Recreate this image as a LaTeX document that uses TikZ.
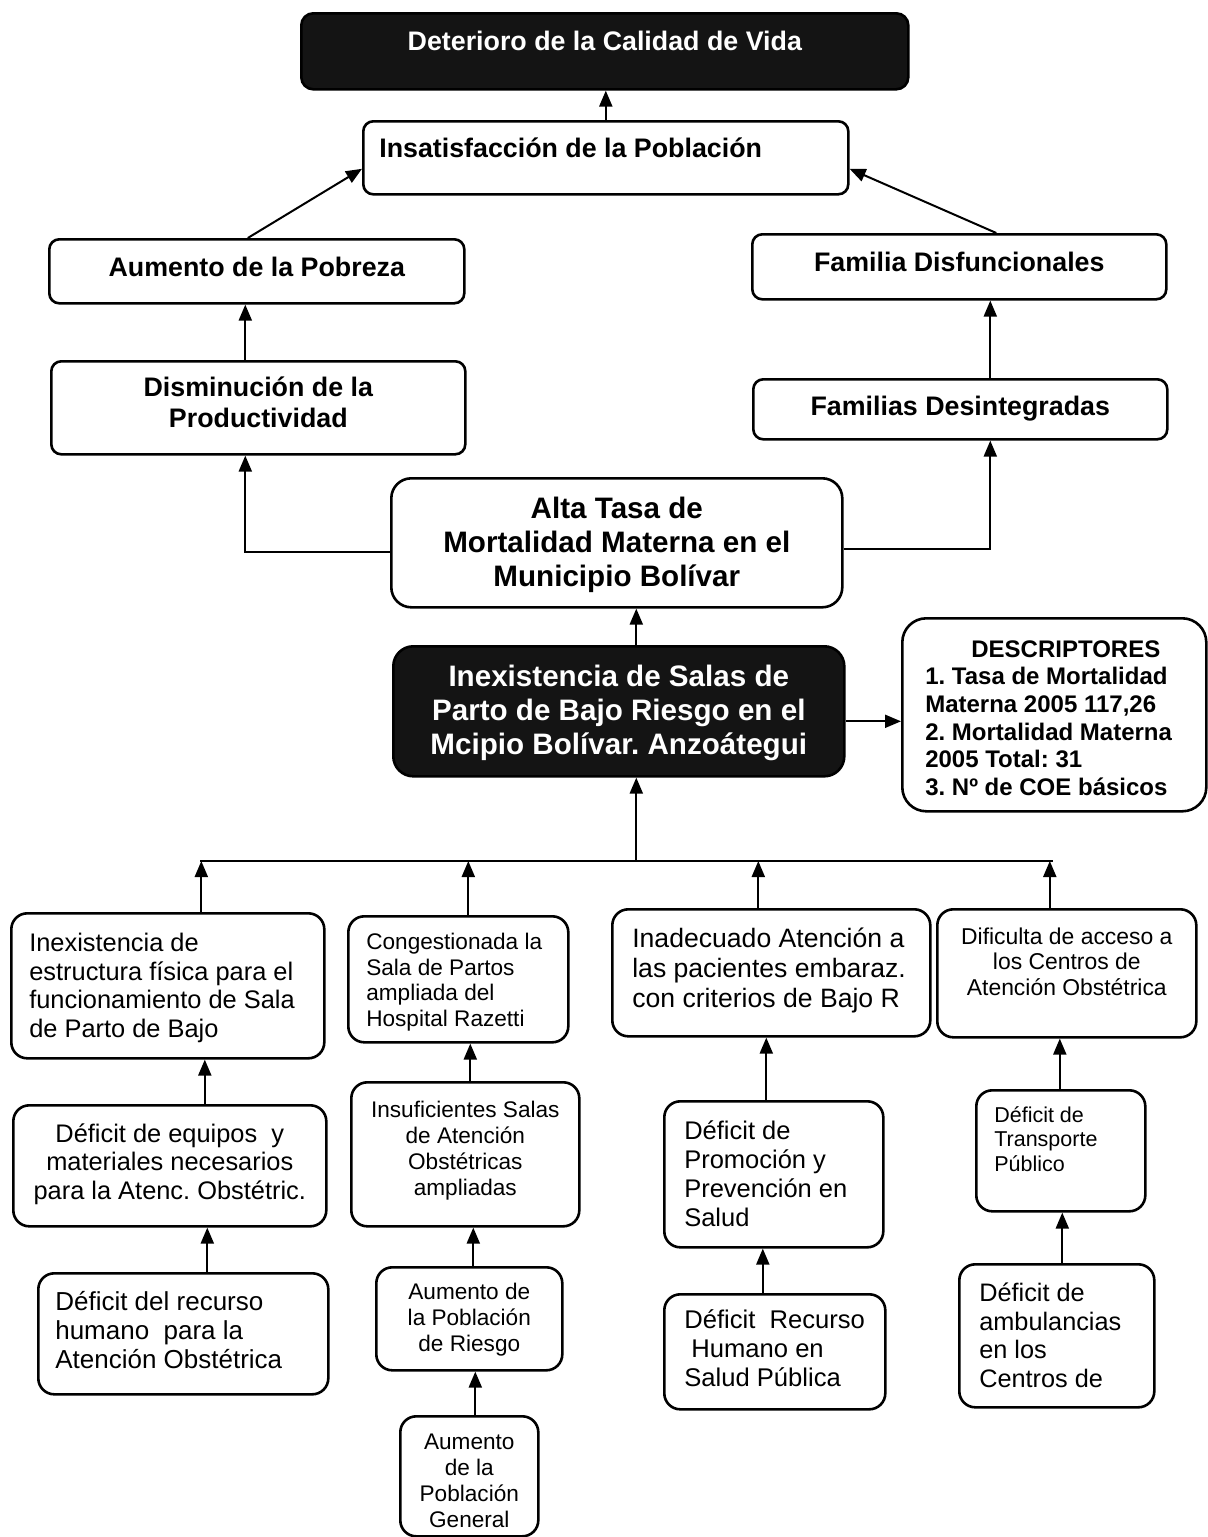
\documentclass[tikz,border=0pt]{standalone}
\usepackage{fontspec}
\setmainfont{Liberation Sans}
\usetikzlibrary{arrows.meta}
\frenchspacing
\newcommand\fs[2]{\fontsize{#1pt}{#2pt}\selectfont}
% box: style, name, x1, y1, x2, y2 (pixels), first-baseline offset (px), setup, text
\newcommand\bx[9]{\node[#1, anchor=north west, inner sep=0pt] (#2) at (#3,#4)
  {\parbox[c][\dimexpr0.5pt*(#6-#4)\relax][t]{\dimexpr0.5pt*(#5-#3)\relax}{\frenchspacing#8\rule{0pt}{\dimexpr0.5pt*#7\relax}#9}};}
\tikzset{
  box/.style={draw, line width=1.3pt, rounded corners=8pt, fill=white},
  topbox/.style={box, rounded corners=5pt},
  darkbox/.style={draw, line width=1.3pt, rounded corners=6pt, fill=black!92, text=white},
  arr/.style={line width=1pt, -{Triangle[length=8pt,width=6.5pt]}},
  link/.style={line width=1pt},
}
\begin{document}
\begin{tikzpicture}[x=0.5pt,y=-0.5pt]
\useasboundingbox[fill=white] (0,0) rectangle (1207,1537);

% ---------- upper part ----------
\bx{darkbox}{det}{300}{12}{907}{88}{37}{\centering\fs{13.4}{15}\bfseries}{Deterioro de la Calidad de Vida}
\bx{topbox}{insat}{362}{120}{847}{193}{36}{\raggedright\leftskip=8pt\relax\fs{13.4}{15}\bfseries}{Insatisfacción de la Población}
\bx{topbox}{pob}{48}{238}{463}{302}{37}{\centering\fs{13.4}{15}\bfseries}{Aumento de la Pobreza}
\bx{topbox}{disf}{751}{233}{1165}{298}{37}{\centering\fs{13.4}{15}\bfseries}{Familia Disfuncionales}
\bx{topbox}{prod}{50}{360}{464}{453}{35}{\centering\fs{13.4}{15.5}\bfseries}{Disminución de la\\Productividad}
\bx{topbox}{desint}{752}{378}{1166}{438}{36}{\centering\fs{13.4}{15}\bfseries}{Familias Desintegradas}
\bx{box, rounded corners=10pt}{alta}{390}{477}{841}{606}{40}{\centering\fs{14.8}{17}\bfseries}{Alta Tasa de\\Mortalidad Materna en el\\Municipio Bolívar}
\bx{darkbox, rounded corners=10pt}{main}{392}{645}{843}{775}{40}{\centering\fs{14.8}{17}\bfseries}{Inexistencia de Salas de\\Parto de Bajo Riesgo en el\\Mcipio Bolívar. Anzoátegui}
\bx{box, rounded corners=12pt}{desc}{901}{617}{1205}{810}{39}{\raggedright\leftskip=11.5pt\relax\fs{12}{13.8}\bfseries}{\hfill DESCRIPTORES\hfill\null\\1. Tasa de Mortalidad\\Materna 2005 117,26\\2. Mortalidad Materna\\2005 Total: 31\\3. Nº de COE básicos}

% ---------- lower part ----------
\bx{box}{ca1}{10}{912}{323}{1057}{38}{\raggedright\leftskip=9pt\relax\fs{12.7}{14.35}}{Inexistencia de\\estructura física para el\\funcionamiento de Sala\\de Parto de Bajo}
\bx{box}{cb1}{12}{1104}{325}{1225}{37}{\centering\fs{12.7}{14.25}}{Déficit de equipos\ \ y\\materiales necesarios\\para la Atenc. Obstétric.}
\bx{box}{cc1}{37}{1272}{327}{1393}{37}{\raggedright\leftskip=8.5pt\relax\fs{13}{14.5}}{Déficit del recurso\\humano\ \ para la\\Atención Obstétrica}

\bx{box}{ca2}{347}{915}{567}{1041}{33}{\raggedright\leftskip=9pt\relax\fs{11.3}{12.85}}{Congestionada la\\Sala de Partos\\ampliada del\\Hospital Razetti}
\bx{box}{cb2}{350}{1081}{578}{1225}{35}{\centering\fs{11.3}{13}}{Insuficientes Salas\\de Atención\\Obstétricas\\ampliadas}
\bx{box}{cc2}{375}{1266}{561}{1369}{32}{\centering\fs{11.3}{13}}{Aumento de\\la Población\\de Riesgo}
\bx{box}{cd2}{399}{1415}{537}{1535}{33}{\centering\fs{11.3}{13}}{Aumento\\de la\\Población\\General}

\bx{box}{ca3}{611}{908}{929}{1035}{38}{\raggedright\leftskip=10pt\relax\fs{13.3}{15}}{Inadecuado Atención a\\las pacientes embaraz.\\con criterios de Bajo R}
\bx{box}{cb3}{663}{1100}{882}{1246}{38}{\raggedright\leftskip=10pt\relax\fs{12.75}{14.5}}{Déficit de\\Promoción y\\Prevención en\\Salud}
\bx{box}{cc3}{663}{1293}{884}{1408}{34}{\raggedright\leftskip=10pt\relax\fs{12.8}{14.5}}{Déficit\ \ Recurso\\\ Humano en\\Salud Pública}

\bx{box}{ca4}{936}{908}{1195}{1036}{35}{\centering\fs{11.45}{12.75}}{Dificulta de acceso a\\los Centros de\\Atención Obstétrica}
\bx{box}{cb4}{975}{1089}{1144}{1210}{32}{\raggedright\leftskip=9pt\relax\fs{10.75}{12.25}}{Déficit de\\Transporte\\Público}
\bx{box}{cc4}{958}{1263}{1153}{1406}{37}{\raggedright\leftskip=10pt\relax\fs{12.65}{14.35}}{Déficit de\\ambulancias\\en los\\Centros de}

% ---------- connectors, upper ----------
\draw[arr] (insat.north) -- (insat.north |- det.south);
\draw[arr] ([xshift=-4.5pt]pob.north) -- ([yshift=-5.5pt]insat.west);
\draw[arr] ([xshift=18.5pt]disf.north) -- ([yshift=-5.5pt]insat.east);
\coordinate (p1) at ([xshift=-6.5pt]prod.north);
\draw[arr] (p1) -- (p1 |- pob.south);
\coordinate (d1) at ([xshift=15pt]desint.north);
\draw[arr] (d1) -- (d1 |- disf.south);
\draw[arr] ([yshift=-4.75pt]alta.west) -| ([xshift=-6.5pt]prod.south);
\draw[arr] ([yshift=-3.25pt]alta.east) -| ([xshift=15pt]desint.south);
\coordinate (m0) at ([xshift=8.75pt]main.north);
\draw[arr] (m0) -- (m0 |- alta.south);
\coordinate (m1) at ([yshift=-5pt]main.east);
\draw[arr] (m1) -- (m1 -| desc.west);

% ---------- bus ----------
\coordinate (busL) at (200,861);
\coordinate (busR) at (1053,861);
\draw[link] (busL) -- (busR);
\coordinate (mb) at ([xshift=8.75pt]main.south);
\draw[arr] (mb |- busL) -- (mb);

\coordinate (k1) at ([xshift=16.75pt]ca1.north);
\draw[arr] (k1) -- (k1 |- busL);
\coordinate (k2) at ([xshift=5pt]ca2.north);
\draw[arr] (k2) -- (k2 |- busL);
\coordinate (k3) at ([xshift=-6.5pt]ca3.north);
\draw[arr] (k3) -- (k3 |- busL);
\coordinate (k4) at ([xshift=-8.5pt]ca4.north);
\draw[arr] (k4) -- (k4 |- busL);

% ---------- columns ----------
\coordinate (q1) at ([xshift=17.5pt]cb1.north);
\draw[arr] (q1) -- (q1 |- ca1.south);
\coordinate (q2) at ([xshift=12pt]cc1.north);
\draw[arr] (q2) -- (q2 |- cb1.south);

\coordinate (q3) at ([xshift=2.5pt]cb2.north);
\draw[arr] (q3) -- (q3 |- ca2.south);
\coordinate (q4) at ([xshift=2pt]cc2.north);
\draw[arr] (q4) -- (q4 |- cb2.south);
\coordinate (q5) at ([xshift=3pt]cd2.north);
\draw[arr] (q5) -- (q5 |- cc2.south);

\coordinate (q6) at ([xshift=-3.75pt]cb3.north);
\draw[arr] (q6) -- (q6 |- ca3.south);
\coordinate (q7) at ([xshift=-6pt]cc3.north);
\draw[arr] (q7) -- (q7 |- cb3.south);

\coordinate (q8) at ([xshift=-0.5pt]cb4.north);
\draw[arr] (q8) -- (q8 |- ca4.south);
\coordinate (q9) at ([xshift=2.75pt]cc4.north);
\draw[arr] (q9) -- (q9 |- cb4.south);
\end{tikzpicture}
\end{document}
